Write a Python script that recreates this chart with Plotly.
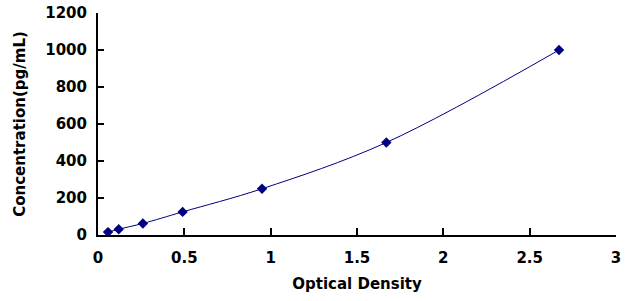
import plotly.graph_objects as go

od = [0.058, 0.12, 0.26, 0.49, 0.95, 1.67, 2.67]
conc = [15.6, 31.25, 62.5, 125, 250, 500, 1000]
x_ticks = [0, 0.5, 1, 1.5, 2, 2.5, 3]
x_labels = ["0", "0.5", "1", "1.5", "2", "2.5", "3"]
y_ticks = [0, 200, 400, 600, 800, 1000, 1200]

fig = go.Figure()
fig.add_trace(go.Scatter(
    x=od, y=conc, mode="lines+markers",
    line=dict(color="#000080", width=1, shape="spline"),
    marker=dict(symbol="diamond", size=8, color="#000080"),
    showlegend=False,
))

bold = dict(family="DejaVu Sans", size=15, color="black", weight="bold")
fig.update_layout(
    width=629, height=301,
    margin=dict(l=98, r=13, t=13, b=66, autoexpand=False),
    paper_bgcolor="white", plot_bgcolor="white",
    font=bold,
)
fig.update_xaxes(
    range=[0, 3], tickvals=x_ticks, ticktext=x_labels,
    showline=True, linecolor="black", linewidth=2,
    ticks="inside", ticklen=7, tickwidth=2, tickcolor="black",
    showgrid=False, zeroline=False, automargin=False,
    tickfont=bold, ticklabelstandoff=8,
    title=dict(text="Optical Density", standoff=12, font=bold),
)
fig.update_yaxes(
    range=[0, 1200], tickvals=y_ticks,
    showline=True, linecolor="black", linewidth=2,
    ticks="inside", ticklen=6, tickwidth=2, tickcolor="black",
    showgrid=False, zeroline=False, automargin=False,
    tickfont=bold, ticklabelstandoff=6,
    title=dict(text="Concentration(pg/mL)", standoff=16, font=bold),
)
fig.write_html("out.html")
